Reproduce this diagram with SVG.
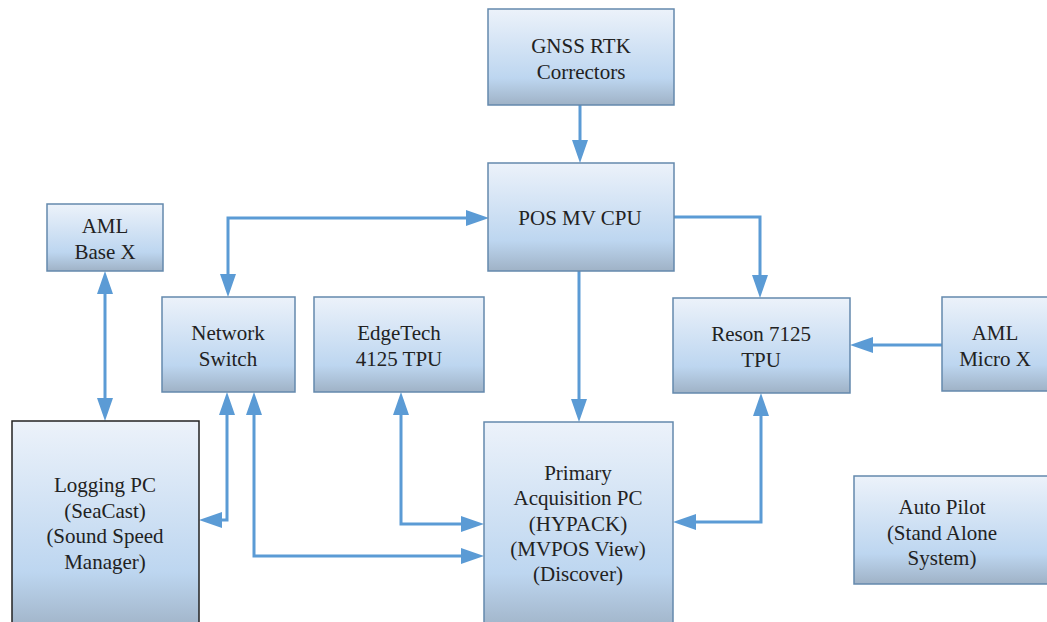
<svg xmlns="http://www.w3.org/2000/svg" width="1047" height="622" viewBox="0 0 1047 622">
<defs>
<linearGradient id="g" x1="0" y1="0" x2="0" y2="1">
<stop offset="0" stop-color="#ecf2fa"/>
<stop offset="0.72" stop-color="#bdd6f0"/>
<stop offset="1" stop-color="#9fb2c6"/>
</linearGradient>
<marker id="ah" markerUnits="userSpaceOnUse" markerWidth="23" markerHeight="16" viewBox="0 0 23 16" refX="13" refY="8" orient="auto-start-reverse">
<path d="M0,0 L23,8 L0,16 z" fill="#5b9bd5"/>
</marker>
</defs>
<style>
.box{fill:url(#g);stroke:#6489ad;stroke-width:1.5}
.dark{stroke:#222}
.t text{font-size:21px;fill:#222;text-anchor:middle}
.c path{fill:none;stroke:#5b9bd5;stroke-width:3}
</style>
<rect width="1047" height="622" fill="#fff"/>
<g class="c" id="connectors">
<path d="M580,105 L580,153" marker-end="url(#ah)"/>
<path d="M479,218 L228,218 L228,287" marker-start="url(#ah)" marker-end="url(#ah)"/>
<path d="M674,217 L760,217 L760,288" marker-end="url(#ah)"/>
<path d="M579,271 L579,412" marker-end="url(#ah)"/>
<path d="M105,281 L105,411" marker-start="url(#ah)" marker-end="url(#ah)"/>
<path d="M227,402 L227,520 L209,520" marker-start="url(#ah)" marker-end="url(#ah)"/>
<path d="M254,402 L254,556 L474,556" marker-start="url(#ah)" marker-end="url(#ah)"/>
<path d="M401,402 L401,524 L474,524" marker-start="url(#ah)" marker-end="url(#ah)"/>
<path d="M761,403 L761,522 L683,522" marker-start="url(#ah)" marker-end="url(#ah)"/>
<path d="M942,345 L860,345" marker-end="url(#ah)"/>
</g>
<g class="t" font-family="'Liberation Serif', 'Times New Roman', serif">
<g id="gnss"><rect class="box" x="488" y="9" width="186" height="96"/><text x="581" y="53">GNSS RTK</text><text x="581" y="79">Correctors</text></g>
<g id="posmv"><rect class="box" x="488" y="163" width="186" height="108"/><text x="580" y="225">POS MV CPU</text></g>
<g id="amlbase"><rect class="box" x="47" y="204" width="116" height="67"/><text x="105" y="233">AML</text><text x="105" y="259">Base X</text></g>
<g id="switch"><rect class="box" x="162" y="297" width="133" height="95"/><text x="228" y="340">Network</text><text x="228" y="366">Switch</text></g>
<g id="edgetech"><rect class="box" x="314" y="297" width="170" height="95"/><text x="399" y="340">EdgeTech</text><text x="399" y="366">4125 TPU</text></g>
<g id="reson"><rect class="box" x="673" y="298" width="177" height="95"/><text x="761" y="341">Reson 7125</text><text x="761" y="367">TPU</text></g>
<g id="amlmicro"><rect class="box" x="942" y="297" width="110" height="94"/><text x="995" y="340">AML</text><text x="995" y="366">Micro X</text></g>
<g id="logging"><rect class="box dark" x="12" y="421" width="187" height="210"/><text x="105" y="492">Logging PC</text><text x="105" y="518">(SeaCast)</text><text x="105" y="543">(Sound Speed</text><text x="105" y="569">Manager)</text></g>
<g id="primary"><rect class="box" x="484" y="422" width="189" height="210"/><text x="578" y="480">Primary</text><text x="578" y="505">Acquisition PC</text><text x="578" y="531">(HYPACK)</text><text x="578" y="556">(MVPOS View)</text><text x="578" y="581">(Discover)</text></g>
<g id="autopilot"><rect class="box" x="854" y="476" width="198" height="108"/><text x="942" y="514">Auto Pilot</text><text x="942" y="540">(Stand Alone</text><text x="942" y="565">System)</text></g>
</g>
</svg>
